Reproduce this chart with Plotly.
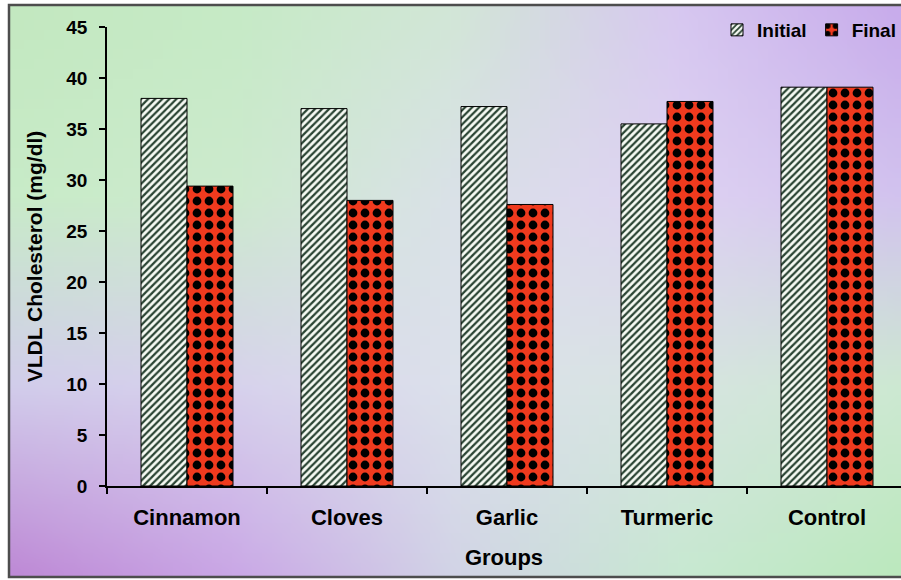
import base64
import struct
import zlib

import plotly.graph_objects as go

# ---- data -------------------------------------------------------------
groups = ["Cinnamon", "Cloves", "Garlic", "Turmeric", "Control"]
initial = [38.0, 37.0, 37.2, 35.5, 39.1]
final = [29.4, 28.0, 27.6, 37.7, 39.1]
y_ticks = [0, 5, 10, 15, 20, 25, 30, 35, 40, 45]

W, H = 901, 580

# ---- soft two-tone backdrop (rendered as a tiny PNG and stretched) -----
grid = [
    [(195, 232, 192), (198, 234, 198), (210, 230, 215), (215, 200, 240), (200, 172, 235)],
    [(200, 235, 200), (205, 234, 206), (218, 225, 232), (222, 210, 242), (210, 195, 238)],
    [(210, 205, 235), (215, 210, 236), (220, 225, 235), (215, 228, 225), (205, 232, 210)],
    [(190, 138, 214), (202, 168, 230), (210, 212, 230), (200, 232, 210), (188, 232, 190)],
]


def backdrop_png(gw=90, gh=58):
    rows = []
    nr, nc = len(grid), len(grid[0])
    for j in range(gh):
        fy = j / (gh - 1) * (nr - 1)
        r0 = min(int(fy), nr - 2)
        ty = fy - r0
        row = bytearray([0])
        for i in range(gw):
            fx = i / (gw - 1) * (nc - 1)
            c0 = min(int(fx), nc - 2)
            tx = fx - c0
            for k in range(3):
                a = grid[r0][c0][k] * (1 - tx) + grid[r0][c0 + 1][k] * tx
                b = grid[r0 + 1][c0][k] * (1 - tx) + grid[r0 + 1][c0 + 1][k] * tx
                row.append(int(round(a * (1 - ty) + b * ty)))
        rows.append(bytes(row))

    def chunk(tag, data):
        c = struct.pack(">I", len(data)) + tag + data
        return c + struct.pack(">I", zlib.crc32(tag + data) & 0xFFFFFFFF)

    png = b"\x89PNG\r\n\x1a\n"
    png += chunk(b"IHDR", struct.pack(">IIBBBBB", gw, gh, 8, 2, 0, 0, 0))
    png += chunk(b"IDAT", zlib.compress(b"".join(rows), 9))
    png += chunk(b"IEND", b"")
    return "data:image/png;base64," + base64.b64encode(png).decode()


FONT = "Liberation Sans, Arial, sans-serif"

fig = go.Figure()
fig.add_trace(go.Bar(
    name="Initial", x=groups, y=initial,
    marker=dict(
        color="#f6faf3",
        line=dict(color="black", width=1),
        pattern=dict(shape="/", fgcolor="#2a4433", bgcolor="#f6faf3",
                     size=5, solidity=0.45, fillmode="replace"),
    ),
))
fig.add_trace(go.Bar(
    name="Final", x=groups, y=final,
    marker=dict(
        color="#f03a1e",
        line=dict(color="black", width=1),
        pattern=dict(shape=".", fgcolor="black", bgcolor="#f03a1e",
                     size=12, solidity=0.42, fillmode="replace"),
    ),
))

x0_px, y_bot_px, y_top_px = 107, 486, 27

fig.update_layout(
    width=W, height=H,
    margin=dict(l=0, r=0, t=0, b=0, autoexpand=False),
    paper_bgcolor="white",
    plot_bgcolor="rgba(0,0,0,0)",
    barmode="group",
    bargap=0.425,
    bargroupgap=0,
    font=dict(family=FONT, color="black", weight="bold"),
    images=[dict(
        source=backdrop_png(), xref="paper", yref="paper",
        x=9 / W, y=1 - 5 / H, sizex=1 - 9 / W, sizey=(577 - 5) / H,
        xanchor="left", yanchor="top", sizing="stretch", layer="below",
    )],
    shapes=[dict(
        type="rect", xref="paper", yref="paper",
        x0=9 / W, x1=1.01, y0=1 - 577 / H, y1=1 - 5 / H,
        line=dict(color="#4d4d4d", width=2.5), layer="below",
    )],
    xaxis=dict(
        domain=[x0_px / W, 1],
        range=[-0.5, 4.4625],
        automargin=False,
        showline=True, linecolor="black", linewidth=1.5,
        ticks="outside", tickson="boundaries", ticklen=6,
        tickcolor="black", tickwidth=1.5,
        tickfont=dict(size=22, family=FONT, weight="bold"),
        ticklabelstandoff=11,
        showgrid=False, zeroline=False,
        title=dict(text="Groups", font=dict(size=22, family=FONT, weight="bold"),
                   standoff=20),
    ),
    yaxis=dict(
        domain=[1 - y_bot_px / H, 1 - y_top_px / H],
        range=[0, 45],
        automargin=False,
        tickvals=y_ticks,
        showline=True, linecolor="black", linewidth=1.5,
        ticks="outside", ticklen=6, tickcolor="black", tickwidth=1.5,
        tickfont=dict(size=19, family=FONT, weight="bold"),
        ticklabelstandoff=8,
        showgrid=False, zeroline=False,
        title=dict(text="VLDL Cholesterol (mg/dl)",
                   font=dict(size=21, family=FONT, weight="bold"), standoff=18),
    ),
    legend=dict(
        orientation="h", x=1.0, xanchor="right", y=1 - 30 / H, yanchor="middle",
        bgcolor="rgba(0,0,0,0)", font=dict(size=19, family=FONT, weight="bold"),
        itemwidth=30, tracegroupgap=0,
    ),
)

fig.write_html("out.html")
